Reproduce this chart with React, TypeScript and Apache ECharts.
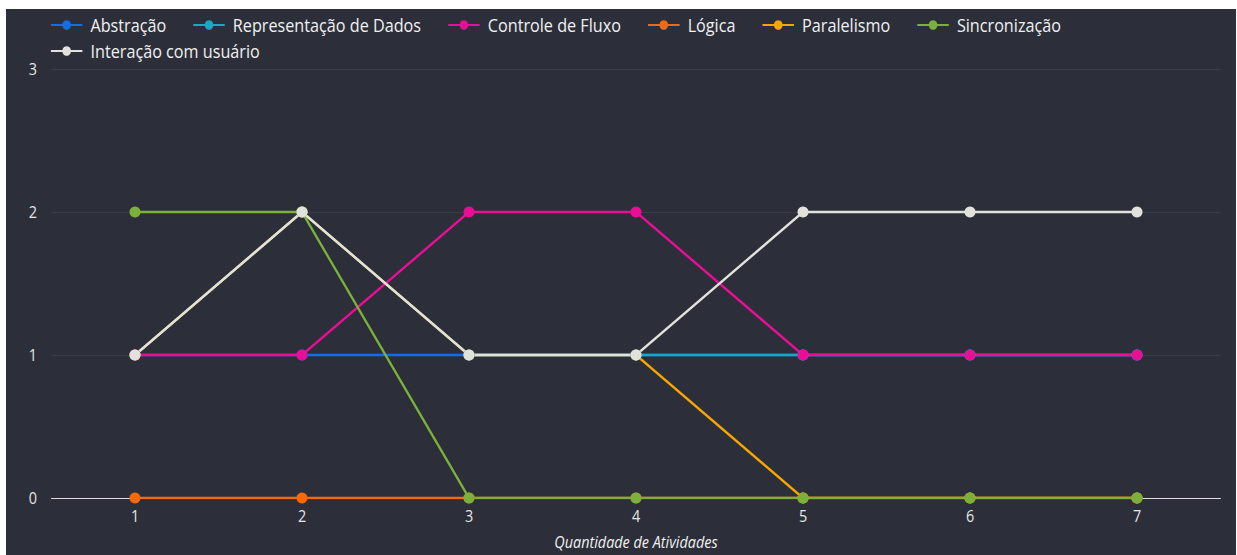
import React, { useEffect, useRef } from "react";
import * as echarts from "echarts";

const categories = ["1", "2", "3", "4", "5", "6", "7"];
const seriesNames = [
  "Abstração",
  "Representação de Dados",
  "Controle de Fluxo",
  "Lógica",
  "Paralelismo",
  "Sincronização",
  "Interação com usuário",
];
const abstracao = [1, 1, 1, 1, 1, 1, 1];
const representacao = [1, 2, 1, 1, 1, 1, 1];
const controle = [1, 1, 2, 2, 1, 1, 1];
const logica = [0, 0, 0, 0, 0, 0, 0];
const paralelismo = [1, 2, 1, 1, 0, 0, 0];
const sincronizacao = [2, 2, 0, 0, 0, 0, 0];
const interacao = [1, 2, 1, 1, 2, 2, 2];
const colors = ["#0f6ee8", "#14a9c9", "#ea0e96", "#f26a0c", "#f7a500", "#79b13b", "#e2e2dc"];
const yTicks = [0, 1, 2, 3];

const SX = 0.9;
const W = 1230;
const H = 546;

export default function App() {
  const ref = useRef<HTMLDivElement>(null);
  useEffect(() => {
    if (!ref.current) return;
    const chart = echarts.init(ref.current, null, { renderer: "svg", width: W / SX, height: H });
    const values = [abstracao, representacao, controle, logica, paralelismo, sincronizacao, interacao];
    const font = "'Open Sans', 'Noto Sans', sans-serif";
    const legendBase = {
      left: 44 / SX,
      padding: 0,
      itemWidth: 35,
      itemHeight: 12,
      itemGap: 29,
      textStyle: { color: "#f0f0f0", fontSize: 18, fontFamily: font, padding: [0, 0, 0, 4] },
    };
    chart.setOption({
      animation: false,
      backgroundColor: "#2c2f39",
      color: colors,
      textStyle: { fontFamily: font },
      legend: [
        { ...legendBase, top: 7, data: seriesNames.slice(0, 6) },
        { ...legendBase, top: 33, data: seriesNames.slice(6) },
      ],
      grid: {
        left: 45.5 / SX,
        right: 15.5 / SX,
        top: 60,
        bottom: 57,
        containLabel: false,
        outerBoundsMode: "none",
      },
      xAxis: {
        type: "category",
        data: categories,
        boundaryGap: true,
        name: "Quantidade de Atividades",
        nameLocation: "middle",
        nameGap: 36,
        nameTextStyle: { color: "#f0f0f0", fontStyle: "italic", fontSize: 16, fontFamily: font },
        axisLine: { lineStyle: { color: "#e6e6e6", width: 1 } },
        axisTick: { show: false },
        axisLabel: { color: "#e6e6e6", fontSize: 16, margin: 10, fontFamily: font },
        splitLine: { show: false },
      },
      yAxis: {
        type: "value",
        min: yTicks[0],
        max: yTicks[yTicks.length - 1],
        interval: 1,
        axisLine: { show: false },
        axisTick: { show: false },
        axisLabel: { color: "#e6e6e6", fontSize: 16, margin: 16, fontFamily: font },
        splitLine: { lineStyle: { color: "#3b3e47", width: 1 } },
      },
      series: seriesNames.map((name, i) => ({
        name,
        type: "line",
        data: values[i],
        symbol: "circle",
        symbolSize: [11 / SX, 11],
        showSymbol: true,
        lineStyle: { width: 2.5, color: colors[i] },
        itemStyle: { color: colors[i] },
      })),
    });
    return () => chart.dispose();
  }, []);
  return (
    <div style={{ position: "absolute", left: 6, top: 9, width: W, height: H, overflow: "hidden" }}>
      <div
        ref={ref}
        style={{ width: W / SX, height: H, transform: `scaleX(${SX})`, transformOrigin: "left top" }}
      />
    </div>
  );
}
